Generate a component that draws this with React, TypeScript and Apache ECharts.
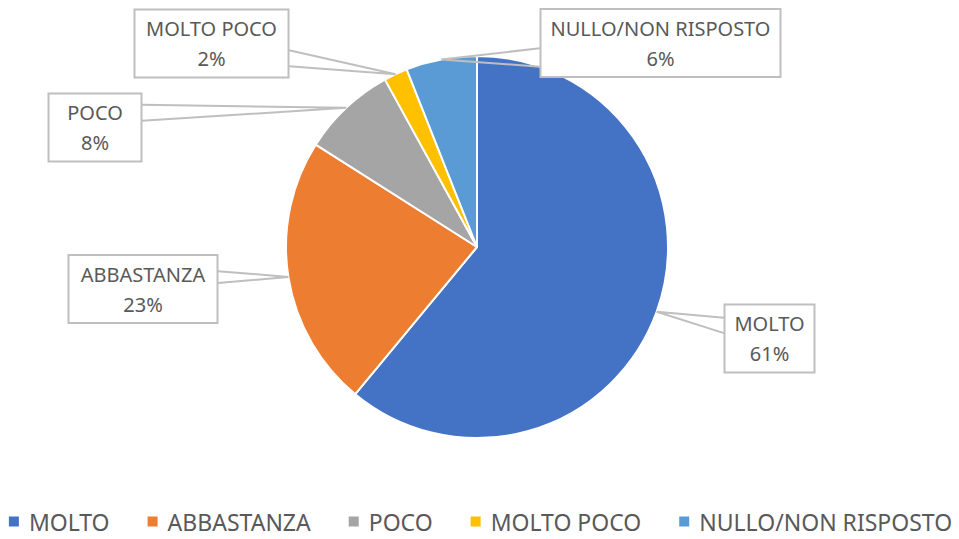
import React, { useEffect, useRef } from "react";
import * as echarts from "echarts";

const categories = ["MOLTO", "ABBASTANZA", "POCO", "MOLTO POCO", "NULLO/NON RISPOSTO"];
const values = [61, 23, 8, 2, 6];
const colors = ["#4472C4", "#ED7D31", "#A5A5A5", "#FFC000", "#5B9BD5"];

// layout of callout boxes: center x, center y, width, height, side of wedge base, base offsets (fraction of height)
const boxLayout = [
  { cx: 769.5, cy: 338.5, w: 91, h: 67, side: "left", b1: 0.19, b2: 0.42 },
  { cx: 143, cy: 289, w: 150, h: 66, side: "right", b1: 0.23, b2: 0.41 },
  { cx: 95, cy: 127.5, w: 94, h: 67, side: "right", b1: 0.16, b2: 0.4 },
  { cx: 211.5, cy: 43.5, w: 155, h: 67, side: "right", b1: 0.6, b2: 0.84 },
  { cx: 660.5, cy: 43, w: 241, h: 66, side: "left", b1: 0.58, b2: 0.86 },
];

const CX = 477;
const CY = 247;
const R = 191;

export default function App() {
  const ref = useRef<HTMLDivElement>(null);
  useEffect(() => {
    if (!ref.current) return;
    const chart = echarts.init(ref.current, undefined, { renderer: "svg" });
    const total = values.reduce((a, b) => a + b, 0);
    let cum = 0;
    const wedges: any[] = [];
    values.forEach((v, i) => {
      const mid = ((cum + v / 2) / total) * Math.PI * 2;
      cum += v;
      const tx = CX + R * Math.sin(mid);
      const ty = CY - R * Math.cos(mid);
      const b = boxLayout[i];
      const bx = b.side === "left" ? b.cx - b.w / 2 : b.cx + b.w / 2;
      const top = b.cy - b.h / 2;
      wedges.push({
        type: "polyline",
        z: 100,
        shape: {
          points: [
            [bx, top + b.b1 * b.h],
            [tx, ty],
            [bx, top + b.b2 * b.h],
          ],
        },
        style: { fill: null, stroke: "#BFBFBF", lineWidth: 2 },
      });
    });

    const data = categories.map((name, i) => ({
      name,
      value: values[i],
      itemStyle: { color: colors[i] },
      label: { width: boxLayout[i].w - 3 },
    }));

    chart.setOption({
      animation: false,
      backgroundColor: "#ffffff",
      graphic: wedges,
      legend: {
        data: categories,
        bottom: 1,
        left: "center",
        icon: "rect",
        itemWidth: 12,
        itemHeight: 12,
        itemGap: 36,
        textStyle: {
          fontFamily: "Noto Sans",
          fontSize: 23,
          color: "#595959",
          padding: [0, 0, 0, 4],
        },
      },
      series: [
        {
          type: "pie",
          center: [CX, CY],
          radius: R,
          startAngle: 90,
          clockwise: true,
          z: 2,
          itemStyle: { borderColor: "#ffffff", borderWidth: 2 },
          label: {
            show: true,
            formatter: "{b}\n{d}%",
            fontFamily: "Noto Sans",
            fontSize: 20,
            lineHeight: 30,
            color: "#595959",
            align: "center",
            backgroundColor: "#ffffff",
            borderColor: "#BFBFBF",
            borderWidth: 2,
            padding: [3, 0, 3, 0],
          },
          labelLine: { show: false },
          labelLayout: (params: any) => {
            const b = boxLayout[params.dataIndex];
            return { x: b.cx, y: b.cy, align: "center", verticalAlign: "middle" };
          },
          emphasis: { disabled: true },
          data,
        },
      ],
    });
    return () => chart.dispose();
  }, []);
  return (
    <div
      ref={ref}
      style={{ position: "fixed", left: 0, top: 0, width: 959, height: 539 }}
    />
  );
}
